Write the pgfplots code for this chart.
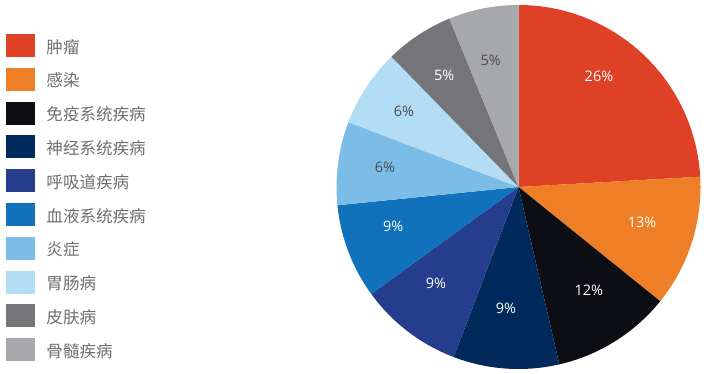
\documentclass[border=0pt]{standalone}
\usepackage{fontspec}
\setmainfont{Noto Sans CJK SC}
\newfontfamily\lab{Open Sans}
\usepackage{pgfplots}
\usepackage{pgfplotstable}
\pgfplotsset{compat=1.18}
\definecolor{c0}{HTML}{DE4126}
\definecolor{c1}{HTML}{EE7F26}
\definecolor{c2}{HTML}{0D0D14}
\definecolor{c3}{HTML}{002A5C}
\definecolor{c4}{HTML}{253D8C}
\definecolor{c5}{HTML}{0F72BA}
\definecolor{c6}{HTML}{7BBDE6}
\definecolor{c7}{HTML}{B3DDF4}
\definecolor{c8}{HTML}{747479}
\definecolor{c9}{HTML}{A7A8AC}
\definecolor{legtext}{HTML}{6D6E71}
\definecolor{darklab}{HTML}{4A4A4D}
% share of each slice, clockwise from 12 o'clock
\pgfplotstableread{
v c
24.1 c0
11.7 c1
10.6 c2
9.4 c3
9.2 c4
8.4 c5
7.4 c6
6.9 c7
6.1 c8
6.2 c9
}\slices
\begin{document}
\begin{tikzpicture}
\path[use as bounding box] (0,0) rectangle (707bp,374bp);
\begin{axis}[at={(518.5bp,187bp)}, anchor=origin,
  x=182bp, y=182bp,
  xmin=-2.849, xmax=1.0357, ymin=-1.0275, ymax=1.0275,
  hide axis, clip=false,
  legend entries={肿瘤,感染,免疫系统疾病,神经系统疾病,呼吸道疾病,血液系统疾病,炎症,胃肠病,皮肤病,骨髓疾病},
  legend cell align=left,
  legend image code/.code={\fill[#1] (0bp,-8.4bp) rectangle (29bp,14.6bp);},
  legend style={at={(axis cs:-2.816,0.8407)}, anchor=north west, draw=none, fill=none,
    inner sep=0pt, outer sep=0pt, row sep=10.8bp, column sep=11.5bp,
    font=\fontsize{16.6}{18}\selectfont, text=legtext,
    nodes={inner sep=0pt, outer sep=0pt, text height=12bp, text depth=3bp}},
]
\pgfmathsetmacro\cum{0}
\pgfplotsforeachungrouped \i in {0,...,9}{
  \pgfplotstablegetelem{\i}{v}\of\slices \let\val\pgfplotsretval
  \pgfplotstablegetelem{\i}{c}\of\slices \let\col\pgfplotsretval
  \pgfmathsetmacro\a{90-3.6*\cum}
  \pgfmathsetmacro\b{90-3.6*(\cum+\val)}
  \edef\tmp{\noexpand\addplot[fill=\col, draw=none, domain=\b:\a, samples=90]
     ({cos(x)},{sin(x)}) -- (axis cs:0,0) -- cycle;}
  \tmp
  \pgfmathsetmacro\cum{\cum+\val}
}
\begin{scope}[font=\lab\fontsize{14.5}{16}\selectfont]
\node[text=white] at (axis cs:0.442,0.606) {26\%};
\node[text=white] at (axis cs:0.679,-0.196) {13\%};
\node[text=white] at (axis cs:0.386,-0.566) {12\%};
\node[text=white] at (axis cs:-0.069,-0.667) {9\%};
\node[text=white] at (axis cs:-0.453,-0.531) {9\%};
\node[text=white] at (axis cs:-0.688,-0.218) {9\%};
\node[text=darklab] at (axis cs:-0.734,0.106) {6\%};
\node[text=darklab] at (axis cs:-0.629,0.418) {6\%};
\node[text=white] at (axis cs:-0.408,0.615) {5\%};
\node[text=darklab] at (axis cs:-0.153,0.698) {5\%};
\end{scope}
\end{axis}
\end{tikzpicture}
\end{document}
